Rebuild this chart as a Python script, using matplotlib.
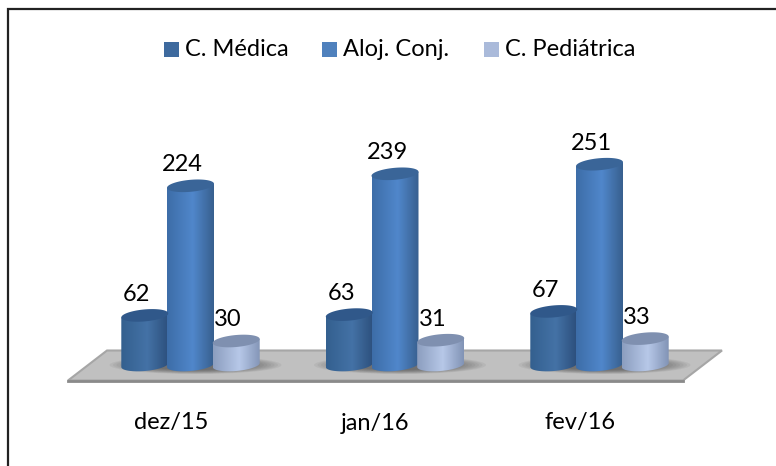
import numpy as np
import matplotlib
matplotlib.use("Agg")
import matplotlib.pyplot as plt
from matplotlib.patches import Ellipse, Polygon, Rectangle
from matplotlib.colors import LinearSegmentedColormap

plt.rcParams['font.family'] = ['Lato', 'DejaVu Sans']

months = ['dez/15', 'jan/16', 'fev/16']
series = ['C. Médica', 'Aloj. Conj.', 'C. Pediátrica']
medica = [62, 63, 67]
aloj = [224, 239, 251]
pediatrica = [30, 31, 33]
values = [medica, aloj, pediatrica]

# shades: left, middle, right of the body, top of cylinder, legend
colors = [('#34608f', '#4472a6', '#2c4f7c', '#30588a', '#3e6a9e'),
          ('#3d6da8', '#5087cb', '#38608f', '#3a6598', '#4f81bd'),
          ('#8c9ebf', '#b7c8e8', '#8294b6', '#7f90b0', '#aabada')]

W, H = 776, 466
px_x = 204.5   # pixels per category
px_y = 0.8     # pixels per value unit
x0, y0 = 190.5, 365.0

fig = plt.figure(figsize=(W / 100, H / 100), dpi=100)
ax = fig.add_axes([0, 0, 1, 1])
ax.axis('off')

def X(p):
    return (p - x0) / px_x

def Y(p):
    return (y0 - p) / px_y

# frame, only the top and left sides are in the picture
ax.plot([X(8), X(8), X(776)], [Y(466), Y(9), Y(9)], color='#222222', lw=1.6,
        solid_joinstyle='miter', zorder=1)

# floor
floor = [(X(68), Y(380.5)), (X(107), Y(350.5)), (X(722), Y(350.5)), (X(683), Y(380.5))]
floor_patch = Polygon(floor, closed=True, fc='#c0c0c0', ec='#a6a6a6', lw=1.5, zorder=2)
ax.add_patch(floor_patch)
ax.plot([floor[0][0], floor[3][0]], [floor[0][1], floor[3][1]], color='#8a8a8a', lw=2, zorder=2)

bar_w = 47 / px_x
ry = 6 / px_y     # half height of the ellipse
tilt = 2 / px_y   # the right end sits higher than the left
step = 45.7 / px_x


def cylinder(xc, val, c):
    left_c, mid_c, right_c, top_c, _ = c
    a = bar_w / 2
    t = np.linspace(np.pi, 2 * np.pi, 40)
    bx = xc + a * np.cos(t)
    by = ry * np.sin(t) + tilt * np.cos(t)
    px = np.concatenate([bx, [xc + a, xc - a]])
    py = np.concatenate([by, [val + tilt, val - tilt]])
    body = Polygon(np.column_stack([px, py]), closed=True, fc='none', ec='none', zorder=5)
    ax.add_patch(body)
    cmap = LinearSegmentedColormap.from_list('c', [(0, left_c), (0.55, mid_c), (1, right_c)])
    im = ax.imshow(np.linspace(0, 1, 64).reshape(1, -1), cmap=cmap, aspect='auto',
                   extent=(xc - a, xc + a, -ry - tilt, val + tilt), zorder=5)
    im.set_clip_path(body)
    t2 = np.linspace(0, 2 * np.pi, 80)
    top = np.column_stack([xc + a * np.cos(t2), val + ry * np.sin(t2) + tilt * np.cos(t2)])
    ax.add_patch(Polygon(top, closed=True, fc=top_c, ec='none', zorder=6))


for i in range(len(months)):
    # soft shadow on the floor, built up from thin layers
    for f in np.linspace(1, 0.55, 12):
        sh = Ellipse((i + 5 / px_x, Y(365)), 172 * f / px_x, 18 * f / px_y, fc='#404040',
                     ec='none', alpha=0.07, zorder=3)
        ax.add_patch(sh)
        sh.set_clip_path(floor_patch)
    for s in range(len(series)):
        xc = i + (s - 1) * step
        cylinder(xc, values[s][i], colors[s])

# value labels
for i in range(len(months)):
    for s in range(len(series)):
        xc = i + (s - 1) * step
        ax.annotate(str(values[s][i]), (xc, values[s][i]), xytext=(-8, 21),
                    textcoords='offset pixels', ha='center', va='center', fontsize=17,
                    color='black', zorder=8)

# month labels
for i, m in enumerate(months):
    ax.text(i + X(171), Y(423), m, ha='center', va='center', fontsize=17, color='black')

# legend
leg_x = [164, 322, 484]
for name, lx, c in zip(series, leg_x, colors):
    ax.add_patch(Rectangle((X(lx), Y(57)), 15 / px_x, 15 / px_y, fc=c[4], ec='none'))
    ax.text(X(lx + 21), Y(49.5), name, ha='left', va='center', fontsize=17, color='black')

ax.set_xlim(-x0 / px_x, (W - x0) / px_x)
ax.set_ylim((y0 - H) / px_y, y0 / px_y)
fig.savefig('out.png', dpi=100)
